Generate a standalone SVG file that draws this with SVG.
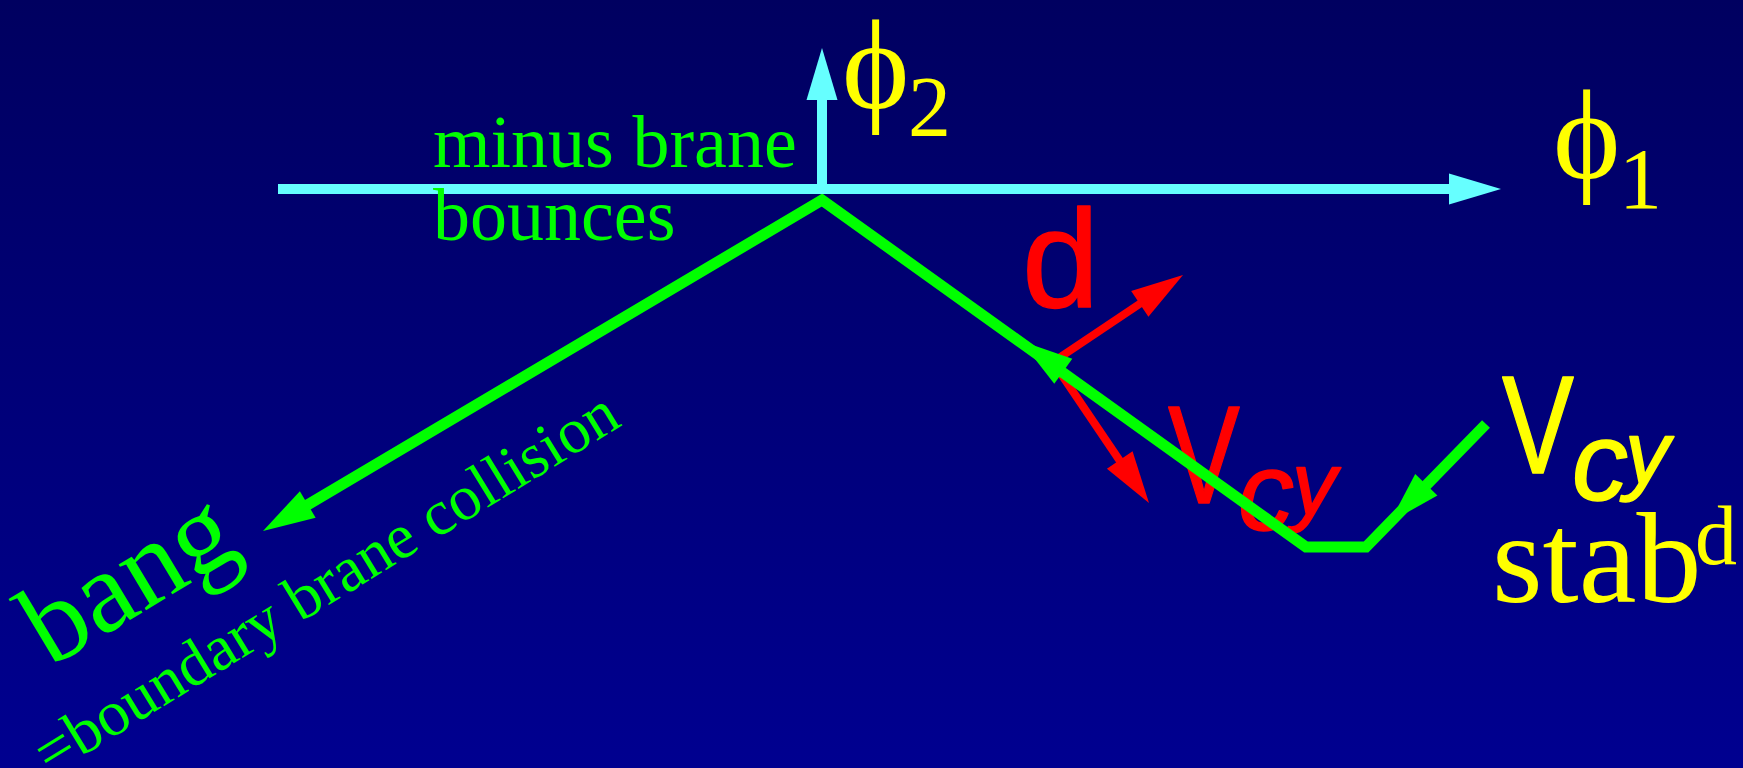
<svg xmlns="http://www.w3.org/2000/svg" width="1743" height="768" viewBox="0 0 1743 768">
<defs>
<linearGradient id="bg" x1="0" y1="0" x2="0" y2="1">
<stop offset="0" stop-color="#000060"/>
<stop offset="1" stop-color="#000090"/>
</linearGradient>
<path id="ah" d="M0,0 L-52,-15.5 L-52,15.5 Z"/>
<style>
.serif{font-family:"Liberation Serif","Times New Roman","DejaVu Serif",serif}
.sans{font-family:"Liberation Sans",Arial,sans-serif}
.g{fill:#00ff00}
.y{fill:#ffff00}
.rs{fill:#ff0000;stroke:#ff0000;stroke-width:1.5;stroke-linejoin:round}
.ys{fill:#ffff00;stroke:#ffff00;stroke-width:1.5;stroke-linejoin:round}
.it{font-style:italic}
.cy{stroke:#66ffff;stroke-width:10;fill:none}
.gr{stroke:#00ff00;stroke-width:11;fill:none;stroke-linejoin:miter}
.rd{stroke:#ff0000;stroke-width:8;fill:none}
</style>
</defs>
<rect width="1743" height="768" fill="url(#bg)"/>

<g id="connectors">
<g id="red-arrows" fill="#ff0000">
<line class="rd" x1="1053" y1="362" x2="1144" y2="301"/>
<use href="#ah" transform="translate(1183,275) rotate(-33.8)"/>
<line class="rd" x1="1053" y1="362" x2="1122" y2="464"/>
<use href="#ah" transform="translate(1149,503) rotate(55.75)"/>
</g>
</g>

<g id="label-d"><text class="sans rs" x="1022" y="307" font-size="139">d</text></g>
<g id="label-vcy-red">
<text class="sans rs" font-size="140" transform="translate(1168,503) scale(0.77,1)">V</text>
<text class="sans rs it" x="1238" y="530" font-size="112">c</text>
<text class="sans rs it" x="1292" y="514" font-size="89">y</text>
</g>

<g id="trajectory">
<polyline class="gr" points="304,507 822,200 1306,547 1366,547 1486,424"/>
<g fill="#00ff00">
<use href="#ah" transform="translate(263,531) rotate(149.4)"/>
<use href="#ah" transform="translate(1021,341) rotate(-144.4)"/>
<use href="#ah" transform="translate(1390,522) rotate(134.3)"/>
</g>
</g>

<g id="axes" fill="#66ffff">
<line class="cy" x1="278" y1="189" x2="1455" y2="189"/>
<use href="#ah" transform="translate(1501,189)"/>
<line class="cy" x1="822" y1="189" x2="822" y2="98"/>
<use href="#ah" transform="translate(822,48) rotate(-90)"/>
</g>

<g id="label-phi2"><text class="serif y" x="842" y="108" font-size="128">ϕ<tspan x="908" y="136" font-size="86">2</tspan></text></g>
<g id="label-phi1"><text class="serif y" x="1553" y="178" font-size="128">ϕ<tspan x="1619" y="208" font-size="86">1</tspan></text></g>

<g id="label-minus-brane">
<text class="serif g" x="433" y="167" font-size="74">minus brane</text>
<text class="serif g" x="433" y="240" font-size="74">bounces</text>
</g>

<g id="label-bang">
<text class="serif g" font-size="116" transform="translate(50,668) rotate(-31)">bang</text>
<text class="serif g" font-size="64" transform="translate(50,776) rotate(-31.5)">=boundary brane collision</text>
</g>

<g id="label-vcy-stab">
<text class="sans ys" font-size="140" transform="translate(1502,473) scale(0.77,1)">V</text>
<text class="sans ys it" x="1572" y="500" font-size="112">c</text>
<text class="sans ys it" x="1625" y="483" font-size="89">y</text>
<text class="serif y" x="1492" y="602" font-size="130">stab<tspan x="1695" y="564" font-size="84">d</tspan></text>
</g>
</svg>
